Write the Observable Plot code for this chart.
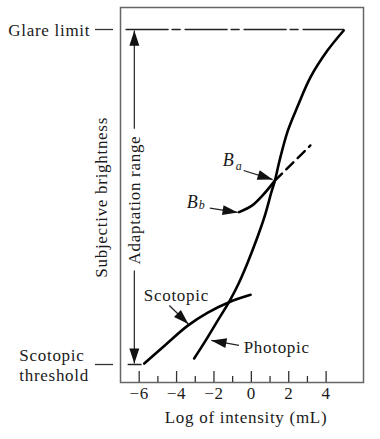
<!DOCTYPE html>
<html><head><meta charset="utf-8">
<script src="https://cdn.jsdelivr.net/npm/d3@7"></script>
<script src="https://cdn.jsdelivr.net/npm/@observablehq/plot@0.6"></script>
<style>body{margin:0;background:#fff}</style>
</head><body><div id="chart"></div>
<script>
// axis ticks (log of intensity, mL)
const xMajor = [-6, -4, -2, 0, 2, 4];
const xMinor = [-5, -3, -1, 1, 3];
// levels on the (unitless) brightness axis: scotopic threshold = 0, glare limit = 10
const levelValues = [0, 10];
// photopic (main) curve
const photopicX = [-3.06, -2.44, -1.80, -1.19, -0.68, -0.20, 0.28, 0.71, 1.08, 1.26, 1.51, 1.94, 2.47, 3.16, 4.07, 4.94];
const photopicY = [0.18, 0.72, 1.31, 1.87, 2.42, 3.04, 3.73, 4.42, 5.16, 5.49, 6.09, 6.96, 7.70, 8.57, 9.37, 9.97];
// scotopic curve
const scotopicX = [-5.73, -4.57, -3.40, -2.33, -1.19, -0.04];
const scotopicY = [0.03, 0.60, 1.16, 1.55, 1.86, 2.08];
// Bb adaptation curve
const bbX = [-0.66, 0.05, 0.59, 1.26];
const bbY = [4.55, 4.75, 5.04, 5.49];
// dashed extension beyond Ba
const extX = [1.26, 3.16];
const extY = [5.49, 6.54];
// glare limit and threshold reference lines
const glareX = [-6.70, 4.94];
const thresholdX = [-6.59, -5.90];
// annotation arrows
const arrowX1 = [-0.41, -2.22, -4.39, -0.66, -6.26, -6.26];
const arrowY1 = [5.79, 4.67, 1.76, 0.57, 7.04, 2.81];
const arrowX2 = [1.14, -0.73, -3.37, -2.14, -6.26, -6.26];
const arrowY2 = [5.52, 4.54, 1.21, 0.72, 9.97, 0.03];
// labels
const scotopicLabel = {text: "Scotopic", x: -4.01, y: 2.06};
const photopicLabel = {text: "Photopic", x: -0.41, y: 0.51};
const levelLabels = ["Scotopic\nthreshold", "Glare limit"];
const levelLabelX = [-12.41, -13.0];
const bLabels = ["B", "B"];
const bLabelX = [-1.53, -3.45];
const bLabelY = [6.09, 4.84];
const bSubs = ["a", "b"];
const bSubX = [-0.84, -2.81];
const bSubY = [5.92, 4.75];
const rotLabels = ["Subjective brightness", "Adaptation range"];
const rotLabelX = [-8.04, -6.26];
const rotLabelY = [4.99, 4.91];
const xTitle = "Log of intensity (mL)";

const pts = (xs, ys) => xs.map((x, i) => ({x, y: ys[i]}));
const idx = a => a.map((_, i) => i);
const fmt = d => d < 0 ? "\u2212" + (-d) : String(d);
const ink = "#1a1a1a";

const chart = Plot.plot({
  width: 380,
  height: 439,
  marginLeft: 120,
  marginRight: 17,
  marginTop: 7,
  marginBottom: 57,
  x: {domain: [-7, 6]},
  y: {domain: [-0.537, 10.657]},
  style: {fontFamily: "Liberation Serif, Times New Roman, serif", fontSize: "17px", color: ink, letterSpacing: "0.7px", background: "#fff"},
  marks: [
    Plot.frame({stroke: "#666", strokeWidth: 1.5}),
    Plot.tickX(xMajor, {x: d => d, insetTop: 364, stroke: "#333", strokeWidth: 1.3}),
    Plot.tickX(xMinor, {x: d => d, insetTop: 369, stroke: "#333", strokeWidth: 1.3}),
    Plot.axisX({ticks: xMajor, tickSize: 0, tickPadding: 4, tickFormat: fmt, label: null, fontSize: 17}),
    Plot.axisY({ticks: levelValues, tickSize: 18, dx: -7, tickFormat: () => "", label: null, stroke: "#333", strokeWidth: 1.3}),
    Plot.text([xTitle], {frameAnchor: "bottom", dy: 40, dx: 4, fontSize: 17}),
    // reference lines
    Plot.line(pts(glareX, [10, 10]), {x: "x", y: "y", stroke: "#222", strokeWidth: 1.5, strokeDasharray: "42,4,8,5"}),
    Plot.line(pts(thresholdX, [0, 0]), {x: "x", y: "y", stroke: "#222", strokeWidth: 1.3}),
    // curves
    Plot.line(pts(photopicX, photopicY), {x: "x", y: "y", curve: "catmull-rom", stroke: "#000", strokeWidth: 2.6}),
    Plot.line(pts(scotopicX, scotopicY), {x: "x", y: "y", curve: "catmull-rom", stroke: "#000", strokeWidth: 2.6}),
    Plot.line(pts(bbX, bbY), {x: "x", y: "y", curve: "catmull-rom", stroke: "#000", strokeWidth: 2.6}),
    Plot.line(pts(extX, extY), {x: "x", y: "y", stroke: "#000", strokeWidth: 2.4, strokeDasharray: "10,6"}),
    // arrows
    Plot.link(idx(arrowX1), {x1: i => arrowX1[i], y1: i => arrowY1[i], x2: i => arrowX2[i], y2: i => arrowY2[i], stroke: "#222", strokeWidth: 1.2, markerEnd: "arrow"}),
    // labels
    Plot.text([scotopicLabel], {x: "x", y: "y", text: "text", textAnchor: "middle", fontSize: 17}),
    Plot.text([photopicLabel], {x: "x", y: "y", text: "text", textAnchor: "start", fontSize: 17}),
    Plot.text(idx(levelLabels), {x: i => levelLabelX[i], y: i => levelValues[i], text: i => levelLabels[i], textAnchor: "start", lineHeight: 1.18, fontSize: 17}),
    Plot.text(idx(bLabels), {x: i => bLabelX[i], y: i => bLabelY[i], text: i => bLabels[i], textAnchor: "start", fontStyle: "italic", fontSize: 18}),
    Plot.text(idx(bSubs), {x: i => bSubX[i], y: i => bSubY[i], text: i => bSubs[i], textAnchor: "start", fontStyle: "italic", fontSize: 12}),
    Plot.text(idx(rotLabels), {x: i => rotLabelX[i], y: i => rotLabelY[i], text: i => rotLabels[i], rotate: -90, fontSize: 17})
  ]
});

// turn the link markers into small solid arrowheads
chart.querySelectorAll("marker").forEach(m => {
  m.setAttribute("viewBox", "-10 -5 12 10");
  m.setAttribute("markerWidth", 22);
  m.setAttribute("markerHeight", 18);
  m.setAttribute("fill", "#111");
  m.setAttribute("stroke", "none");
  const p = m.querySelector("path");
  if (p) p.setAttribute("d", "M-7,-2.3L0,0L-7,2.3Z");
});
document.getElementById("chart").append(chart);
</script>
</body></html>
